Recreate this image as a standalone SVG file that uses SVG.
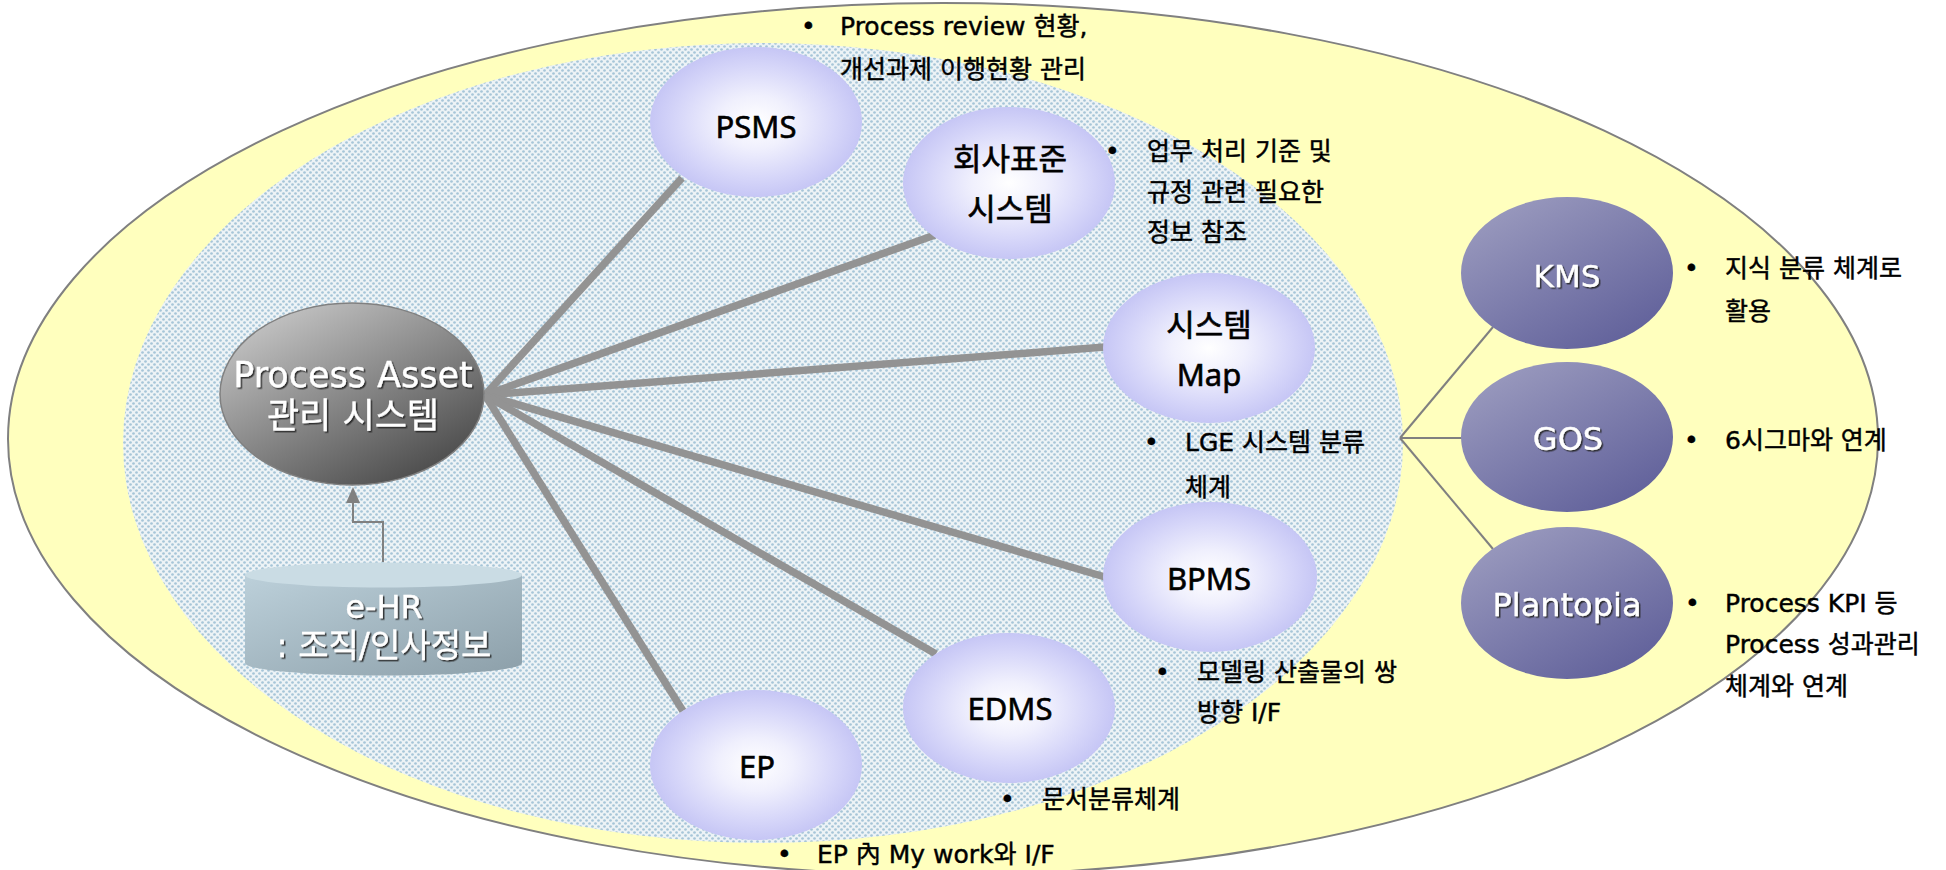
<svg xmlns="http://www.w3.org/2000/svg" width="1946" height="870" viewBox="0 0 1946 870">
<defs>
<style>
.desc{font-family:"DejaVu Sans","Noto Sans CJK KR",sans-serif;font-size:25px;fill:#000;stroke:#000;stroke-width:0.45;}
.lbl{font-family:"Noto Sans","Noto Sans CJK KR",sans-serif;font-size:31px;fill:#000;stroke:#000;stroke-width:0.6;text-anchor:middle;}
.wlbl{font-family:"DejaVu Sans","Noto Sans CJK KR",sans-serif;fill:#fff;stroke:#fff;stroke-width:0.3;text-anchor:middle;filter:url(#shadow);}
.spoke{stroke:#939393;stroke-width:7.5;fill:none;}
.thin{stroke:#808080;stroke-width:2;fill:none;}
.light{fill:url(#lightGrad);}
.purple{fill:url(#purpleGrad);}
</style>
<pattern id="dots" width="6" height="6" patternUnits="userSpaceOnUse">
<rect width="6" height="6" fill="#EDF3F6"/>
<circle cx="1.5" cy="1.5" r="1.35" fill="#A6C5D8"/>
<circle cx="4.5" cy="4.5" r="1.35" fill="#A6C5D8"/>
</pattern>
<radialGradient id="lightGrad" cx="50%" cy="50%" r="50%">
<stop offset="0" stop-color="#FFFFFF"/>
<stop offset="0.35" stop-color="#F0F0FD"/>
<stop offset="0.75" stop-color="#D6D6F9"/>
<stop offset="1" stop-color="#C6C6F5"/>
</radialGradient>
<linearGradient id="purpleGrad" x1="0.15" y1="0.05" x2="0.85" y2="0.95">
<stop offset="0" stop-color="#9A9ABE"/>
<stop offset="1" stop-color="#60609A"/>
</linearGradient>
<linearGradient id="grayGrad" x1="0.15" y1="0.05" x2="0.85" y2="0.95">
<stop offset="0" stop-color="#C6C6C6"/>
<stop offset="1" stop-color="#484848"/>
</linearGradient>
<linearGradient id="cylGrad" x1="0" y1="0" x2="1" y2="1">
<stop offset="0" stop-color="#BCD0DA"/>
<stop offset="1" stop-color="#8C9FA9"/>
</linearGradient>
<filter id="shadow" x="-10%" y="-20%" width="120%" height="150%">
<feDropShadow dx="1.5" dy="1.5" stdDeviation="0.6" flood-color="#222" flood-opacity="0.9"/>
</filter>
<marker id="arrow" markerWidth="16" markerHeight="14" refX="1" refY="7" orient="auto" markerUnits="userSpaceOnUse" viewBox="0 0 16 14">
<path d="M0 0 L16 7 L0 14 Z" fill="#808080"/>
</marker>
</defs>

<rect width="1946" height="870" fill="#FFFFFF"/>

<g id="background">
<ellipse cx="943" cy="439" rx="935" ry="436" fill="#FFFFBE" stroke="#808080" stroke-width="2"/>
<ellipse cx="763" cy="443" rx="640" ry="400" fill="url(#dots)"/>
</g>

<g id="connectors">
<line class="spoke" x1="485" y1="395" x2="682" y2="178"/>
<line class="spoke" x1="485" y1="395" x2="935" y2="235"/>
<line class="spoke" x1="485" y1="395" x2="1105" y2="347"/>
<line class="spoke" x1="485" y1="395" x2="1105" y2="577"/>
<line class="spoke" x1="485" y1="395" x2="936" y2="654"/>
<line class="spoke" x1="485" y1="395" x2="683" y2="711"/>
<path class="thin" d="M383 562 V522 H353 V502" marker-end="url(#arrow)"/>
<line class="thin" x1="1400" y1="438" x2="1493" y2="327"/>
<line class="thin" x1="1400" y1="438" x2="1462" y2="438"/>
<line class="thin" x1="1400" y1="438" x2="1493" y2="549"/>
</g>

<g id="node-pams">
<ellipse cx="352" cy="394" rx="132" ry="91" fill="url(#grayGrad)" stroke="#808080" stroke-width="1.5"/>
<text class="wlbl" x="353" y="387" font-size="35">Process Asset</text>
<text class="wlbl" x="353" y="428" font-size="35">관리 시스템</text>
</g>

<g id="node-ehr">
<path d="M245 575 V663 A138.5 12.5 0 0 0 522 663 V575 Z" fill="url(#cylGrad)"/>
<ellipse cx="383.5" cy="575" rx="138.5" ry="12.5" fill="#CADCE4"/>
<text class="wlbl" x="384" y="618" font-size="32">e-HR</text>
<text class="wlbl" x="384" y="657" font-size="33">: 조직/인사정보</text>
</g>

<g id="node-psms">
<ellipse class="light" cx="756" cy="122" rx="106" ry="75"/>
<text class="lbl" x="756" y="138">PSMS</text>
<text class="desc"><tspan x="801" y="35">•</tspan><tspan x="840" y="35">Process review 현황,</tspan><tspan x="840" y="78">개선과제 이행현황 관리</tspan></text>
</g>

<g id="node-standard">
<ellipse class="light" cx="1009" cy="183" rx="106" ry="76"/>
<text class="lbl" x="1010" y="170">회사표준</text>
<text class="lbl" x="1010" y="220">시스템</text>
<text class="desc"><tspan x="1105" y="160">•</tspan><tspan x="1147" y="160">업무 처리 기준 및</tspan><tspan x="1147" y="201">규정 관련 필요한</tspan><tspan x="1147" y="241">정보 참조</tspan></text>
</g>

<g id="node-sysmap">
<ellipse class="light" cx="1209" cy="348" rx="106" ry="75"/>
<text class="lbl" x="1209" y="336">시스템</text>
<text class="lbl" x="1209" y="386">Map</text>
<text class="desc"><tspan x="1144" y="451">•</tspan><tspan x="1185" y="451">LGE 시스템 분류</tspan><tspan x="1185" y="496">체계</tspan></text>
</g>

<g id="node-bpms">
<ellipse class="light" cx="1210" cy="577" rx="107" ry="75"/>
<text class="lbl" x="1209" y="590">BPMS</text>
<text class="desc"><tspan x="1155" y="681">•</tspan><tspan x="1197" y="681">모델링 산출물의 쌍</tspan><tspan x="1197" y="721">방향 I/F</tspan></text>
</g>

<g id="node-edms">
<ellipse class="light" cx="1009" cy="708" rx="106" ry="75"/>
<text class="lbl" x="1010" y="720">EDMS</text>
<text class="desc"><tspan x="1000" y="808">•</tspan><tspan x="1042" y="808">문서분류체계</tspan></text>
</g>

<g id="node-ep">
<ellipse class="light" cx="756" cy="765" rx="106" ry="75"/>
<text class="lbl" x="757" y="778">EP</text>
<text class="desc"><tspan x="777" y="863">•</tspan><tspan x="817" y="863">EP 內 My work와 I/F</tspan></text>
</g>

<g id="node-kms">
<ellipse class="purple" cx="1567" cy="273" rx="106" ry="76"/>
<text class="wlbl" x="1567" y="287" font-size="31">KMS</text>
<text class="desc"><tspan x="1684" y="277">•</tspan><tspan x="1725" y="277">지식 분류 체계로</tspan><tspan x="1725" y="320">활용</tspan></text>
</g>

<g id="node-gos">
<ellipse class="purple" cx="1567" cy="437" rx="106" ry="75"/>
<text class="wlbl" x="1568" y="450" font-size="32">GOS</text>
<text class="desc"><tspan x="1684" y="449">•</tspan><tspan x="1725" y="449">6시그마와 연계</tspan></text>
</g>

<g id="node-plantopia">
<ellipse class="purple" cx="1567" cy="603" rx="106" ry="76"/>
<text class="wlbl" x="1567" y="616" font-size="32">Plantopia</text>
<text class="desc"><tspan x="1685" y="612">•</tspan><tspan x="1725" y="612">Process KPI 등</tspan><tspan x="1725" y="653">Process 성과관리</tspan><tspan x="1725" y="695">체계와 연계</tspan></text>
</g>
</svg>
